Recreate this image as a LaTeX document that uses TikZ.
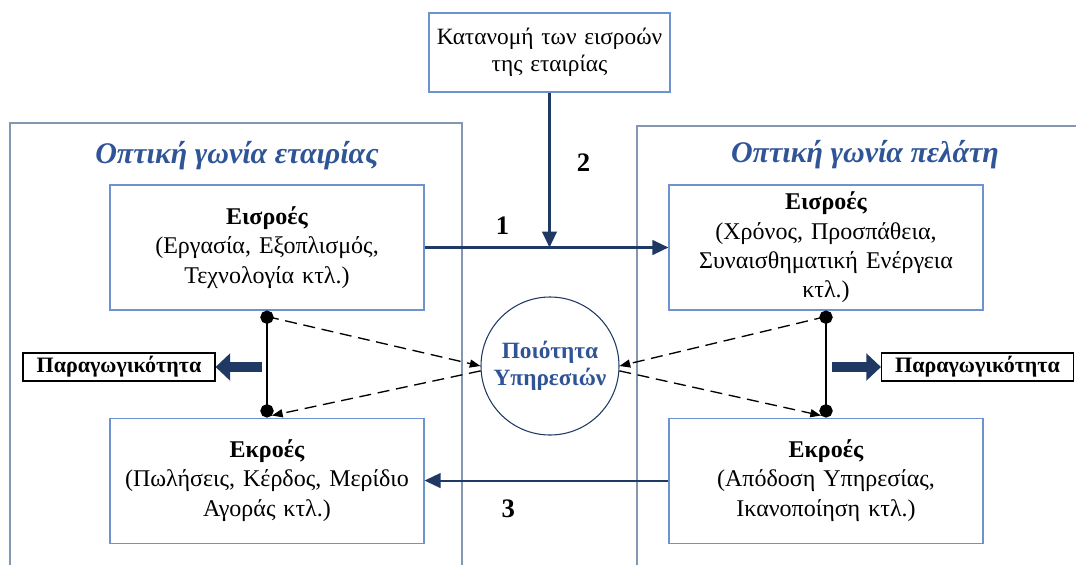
\documentclass[tikz,border=0pt]{standalone}
\usepackage{fontspec}
\setmainfont{Liberation Serif}
\usetikzlibrary{arrows.meta, positioning, calc}

\definecolor{navy}{HTML}{1F3864}
\definecolor{titleblue}{HTML}{2F5597}
\definecolor{boxblue}{HTML}{6C93CF}
\definecolor{framegray}{HTML}{8496B0}

\begin{document}
\begin{tikzpicture}[
    x=0.75pt, y=-0.75pt,
    every node/.style={font=\fontsize{18}{22}\selectfont, align=center},
    box/.style={draw=boxblue, line width=0.8pt, minimum width=235.5pt, minimum height=93.75pt, inner sep=2pt, text width=228pt},
    title/.style={font=\fontsize{22.5}{24}\selectfont\bfseries\itshape, text=titleblue},
    prod/.style={draw, line width=0.8pt, minimum width=144pt, minimum height=21pt, inner sep=1pt, font=\fontsize{16.5}{18}\selectfont\bfseries},
    num/.style={font=\fontsize{20}{22}\selectfont\bfseries},
    arrow/.style={-{Triangle[length=12pt, width=11pt]}, line width=1.6pt, draw=navy},
    fat/.style={-{Triangle[length=11pt, width=20pt]}, line width=7.5pt, draw=navy},
    dashline/.style={-{Triangle[length=8pt, width=6pt]}, dash pattern=on 9pt off 5pt, line width=1pt},
    link/.style={{Circle[length=10pt]}-{Circle[length=10pt]}, line width=2pt}
  ]
  \useasboundingbox (0,0) rectangle (1076,565);

  % Frames of the two views
  \draw[framegray, line width=1.1pt] (10,565) |- (462,123) -- (462,565);
  \draw[framegray, line width=1.1pt] (637,565) |- (1076,126);
  \node[title] (tl) at (237,156) {Οπτική γωνία εταιρίας};
  \node[title] (tr) at (865,155) {Οπτική γωνία πελάτη};

  % Allocation box
  \node[box, minimum width=180.75pt, minimum height=59.25pt, text width=175pt, font=\fontsize{17.5}{20}\selectfont] (alloc) at (549.5,52.5)
    {Κατανομή των εισροών\\της εταιρίας};

  % Company side
  \node[box] (inl) at (267,247.5) {\textbf{Εισροές}\\(Εργασία, Εξοπλισμός,\\Τεχνολογία κτλ.)};
  \node[box, below=80.25pt of inl] (outl) {\textbf{Εκροές}\\(Πωλήσεις, Κέρδος, Μερίδιο\\Αγοράς κτλ.)};

  % Customer side
  \node[box] (inr) at (826,247.5) {\textbf{Εισροές}\\(Χρόνος, Προσπάθεια,\\Συναισθηματική Ενέργεια\\κτλ.)};
  \node[box, below=80.25pt of inr] (outr) {\textbf{Εκροές}\\(Απόδοση Υπηρεσίας,\\Ικανοποίηση κτλ.)};

  % Service quality
  \node[circle, draw=navy, line width=0.8pt, minimum size=103.5pt, inner sep=0pt, text=titleblue,
    font=\fontsize{17.5}{20}\selectfont\bfseries] (qual) at (550,366) {Ποιότητα\\Υπηρεσιών};

  % Productivity
  \node[prod] (pl) at (119,367) {Παραγωγικότητα};
  \node[prod] (pr) at (977.5,367) {Παραγωγικότητα};

  % Main flows
  \draw[arrow] (inl) -- node[num, pos=0.32, yshift=16.5pt] (n1) {1} (inr);
  \draw[arrow] (alloc.south) -- node[num, pos=0.455, xshift=25.5pt] (n2) {2} (alloc.south |- inl.east);
  \draw[arrow] (outr) -- node[num, pos=0.657, yshift=-21pt] (n3) {3} (outl);

  % Dots and dashed links
  \coordinate (ltop) at ($(inl.south)+(0,6)$);
  \coordinate (lbot) at ($(outl.north)+(5,-2)$);
  \coordinate (rtop) at ($(inr.south)+(0,6)$);
  \coordinate (rbot) at ($(outr.north)+(-5,-2)$);
  \draw[dashline] (ltop) -- (qual.west);
  \draw[dashline] (qual.184) -- (lbot);
  \draw[dashline] (rtop) -- (qual.east);
  \draw[dashline] (qual.356) -- (rbot);
  \draw[link] (inl) -- (outl);
  \draw[link] (inr) -- (outr);

  % Productivity arrows
  \coordinate (lm) at (262,367);
  \coordinate (rm) at (832,367);
  \draw[fat] (lm) -- (pl);
  \draw[fat] (rm) -- (pr);
\end{tikzpicture}
\end{document}
